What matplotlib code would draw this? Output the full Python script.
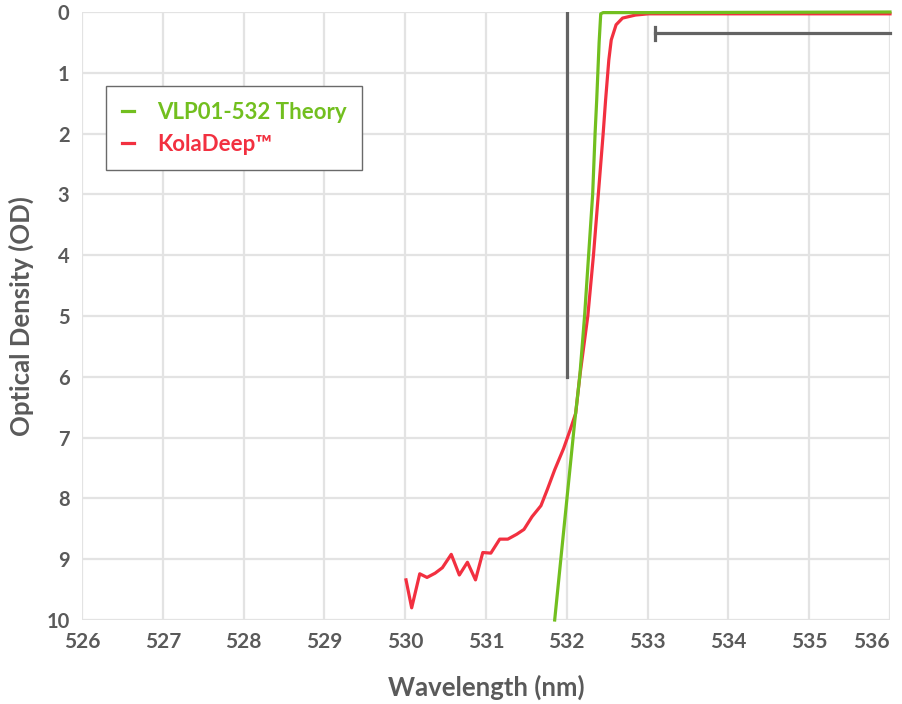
import matplotlib
matplotlib.use("Agg")
import matplotlib.pyplot as plt
from matplotlib.lines import Line2D

plt.rcParams['font.family'] = ['Lato', 'DejaVu Sans']

# Data
theory_wl = [531.85, 532.10, 532.16, 532.22, 532.27, 532.32, 532.35, 532.37, 532.40, 532.42, 532.45, 533.0, 536.0]
theory_od = [10.0, 6.71, 6.0, 5.0, 4.0, 3.0, 2.0, 1.45, 0.5, 0.03, 0.01, 0.01, 0.0]

kola_wl = [530.01, 530.08, 530.18, 530.27, 530.37, 530.46, 530.57, 530.67, 530.77, 530.87,
           530.96, 531.06, 531.17, 531.27, 531.38, 531.47, 531.57, 531.68, 531.76, 531.85,
           531.96, 532.04, 532.11, 532.16, 532.26, 532.33, 532.39, 532.45, 532.48, 532.52,
           532.55, 532.61, 532.69, 532.85, 533.01, 534.0, 535.0, 536.0]
kola_od = [9.34, 9.80, 9.24, 9.30, 9.23, 9.14, 8.92, 9.26, 9.05, 9.34,
           8.89, 8.90, 8.67, 8.67, 8.59, 8.51, 8.30, 8.12, 7.85, 7.53,
           7.18, 6.88, 6.60, 6.0, 5.0, 4.0, 3.0, 2.0, 1.45, 0.79,
           0.46, 0.21, 0.10, 0.05, 0.03, 0.03, 0.03, 0.03]

x_ticks = [526, 527, 528, 529, 530, 531, 532, 533, 534, 535, 536]
y_ticks = [0, 1, 2, 3, 4, 5, 6, 7, 8, 9, 10]

laser_wl = 532.0
laser_od_end = 6.0
range_start = 533.09
range_end = 536.0
range_od = 0.35

GREEN = '#72bf1f'
RED = '#f23040'
DARK = '#636363'
GRID = '#e3e3e3'
TEXT = '#5a5a5a'

fig = plt.figure(figsize=(9.02, 7.04), dpi=100)
ax = fig.add_axes([82/902, 1-620/704, (890-82)/902, (620-12)/704])

ax.set_xlim(526, 536)
ax.set_ylim(10, 0)
ax.set_xticks(x_ticks)
ax.set_yticks(y_ticks)
ax.grid(True, color=GRID, linewidth=1.6, zorder=0)
ax.set_axisbelow(True)
for s in ax.spines.values():
    s.set_visible(False)
ax.tick_params(axis='x', length=0, pad=9, labelcolor=TEXT, labelsize=15)
ax.tick_params(axis='y', length=0, pad=9, labelcolor=TEXT, labelsize=14.5)
for lab in ax.get_xticklabels() + ax.get_yticklabels():
    lab.set_fontweight('bold')
xl = ax.get_xticklabels()
xl[-1].set_horizontalalignment('right')
xl[-1].set_x(536.05)

ax.plot(kola_wl, kola_od, color=RED, lw=2.3, zorder=3, clip_on=False)
ax.plot(theory_wl, theory_od, color=GREEN, lw=2.3, zorder=4, clip_on=False)

ax.plot([laser_wl, laser_wl], [0, laser_od_end], color=DARK, lw=2.3, zorder=5)
ax.plot([range_start, range_end], [range_od, range_od], color=DARK, lw=2.3, zorder=5, clip_on=False)
ax.plot([range_start, range_start], [range_od - 0.11, range_od + 0.11], color=DARK, lw=2.3, zorder=5)

ax.set_xlabel('Wavelength (nm)', fontsize=18.5, fontweight='bold', color=TEXT, labelpad=16)
ax.set_ylabel('Optical Density (OD)', fontsize=18.5, fontweight='bold', color=TEXT, labelpad=9)

handles = [Line2D([0], [0], color=GREEN, lw=2.3), Line2D([0], [0], color=RED, lw=2.3)]
leg = ax.legend(handles, ['VLP01-532 Theory', 'KolaDeep™'], loc='upper left',
                bbox_to_anchor=((106-82)/808, 1-(86-12)/608), fancybox=False,
                edgecolor='#6a6a6a', framealpha=1, handlelength=0.55, handletextpad=1.05,
                borderpad=0.7, borderaxespad=0, labelspacing=0.5,
                prop={'weight': 'bold', 'size': 16})
leg.get_frame().set_linewidth(1.0)
for t, c in zip(leg.get_texts(), [GREEN, RED]):
    t.set_color(c)

fig.savefig('out.png', dpi=100)
